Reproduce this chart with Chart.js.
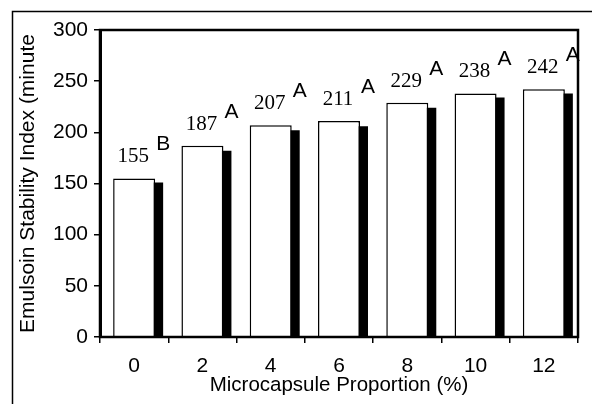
<!DOCTYPE html>
<html>
<head>
<meta charset="utf-8">
<script src="https://cdn.jsdelivr.net/npm/chart.js@4.4.1/dist/chart.umd.min.js"></script>
<style>
  html, body { margin: 0; padding: 0; background: #fff; overflow: hidden; }
  canvas { display: block; }
</style>
</head>
<body>
<canvas id="esiChart" width="592" height="404"></canvas>
<script>
// dati
const categories = ["0", "2", "4", "6", "8", "10", "12"];
const esiValues = [155, 187, 207, 211, 229, 238, 242];
const shadowValues = [151, 182, 202, 206, 224, 234, 238];
const groupLetters = ["B", "A", "A", "A", "A", "A", "A"];
const yTicks = [0, 50, 100, 150, 200, 250, 300];

Chart.defaults.font.family = "'Liberation Sans', Arial, sans-serif";
Chart.defaults.font.size = 21;
Chart.defaults.color = "#000";

// ombra spostata a destra + cornici + etichette
const decorPlugin = {
  id: "decor",
  beforeDatasetDraw(chart, args) {
    if (args.index === 1) {
      chart.ctx.save();
      chart.ctx.translate(8, 0);
    }
  },
  afterDatasetDraw(chart, args) {
    if (args.index === 1) chart.ctx.restore();
  },
  afterDraw(chart) {
    const { ctx, chartArea: a } = chart;
    ctx.save();
    ctx.strokeStyle = "#000";
    ctx.lineWidth = 2.5;
    ctx.strokeRect(a.left, a.top, a.right - a.left, a.bottom - a.top);
    ctx.lineWidth = 1.5;
    ctx.strokeRect(12.5, 11.5, 620, 420);

    const bars = chart.getDatasetMeta(0).data;
    ctx.fillStyle = "#000";
    bars.forEach((bar, i) => {
      ctx.font = "21px 'Liberation Serif', 'Times New Roman', serif";
      ctx.textAlign = "center";
      ctx.textBaseline = "alphabetic";
      ctx.fillText(String(esiValues[i]), bar.x - 1, bar.y - 16);
      ctx.font = "21px 'Liberation Sans', Arial, sans-serif";
      ctx.textAlign = "left";
      ctx.fillText(groupLetters[i], bar.x + bar.width / 2 + 1, bar.y - 28);
    });
    ctx.restore();
  }
};

new Chart(document.getElementById("esiChart"), {
  type: "bar",
  data: {
    labels: categories,
    datasets: [
      {
        data: esiValues,
        backgroundColor: "#fff",
        borderColor: "#000",
        borderWidth: 1.5,
        grouped: false,
        categoryPercentage: 1,
        barPercentage: 0.615
      },
      {
        data: shadowValues,
        backgroundColor: "#000",
        borderWidth: 0,
        grouped: false,
        categoryPercentage: 1,
        barPercentage: 0.615
      }
    ]
  },
  options: {
    responsive: false,
    devicePixelRatio: 1,
    animation: false,
    layout: { padding: { left: 0, top: 30, right: 14, bottom: 0 } },
    plugins: { legend: { display: false }, tooltip: { enabled: false } },
    scales: {
      x: {
        offset: true,
        afterFit: (s) => { s.height = 67; },
        grid: { offset: true, drawOnChartArea: false, drawTicks: true, tickLength: 6, color: "#000", lineWidth: 1.5 },
        border: { display: true, color: "#000", width: 2 },
        ticks: { padding: 11, color: "#000" },
        title: {
          display: true,
          text: "Microcapsule Proportion (%)",
          font: { size: 20.5 },
          padding: { top: 0, bottom: 6 }
        }
      },
      y: {
        min: 0,
        max: 300,
        afterFit: (s) => { s.width = 100; },
        afterBuildTicks: (s) => { s.ticks = yTicks.map((v) => ({ value: v })); },
        grid: { drawOnChartArea: false, drawTicks: true, tickLength: 6, color: "#000", lineWidth: 1.5 },
        border: { display: true, color: "#000", width: 3 },
        ticks: { padding: 6, color: "#000" },
        title: {
          display: true,
          text: "Emulsoin Stability Index (minute",
          font: { size: 21 },
          padding: { top: 16, bottom: 0 }
        }
      }
    }
  },
  plugins: [decorPlugin]
});
</script>
</body>
</html>
